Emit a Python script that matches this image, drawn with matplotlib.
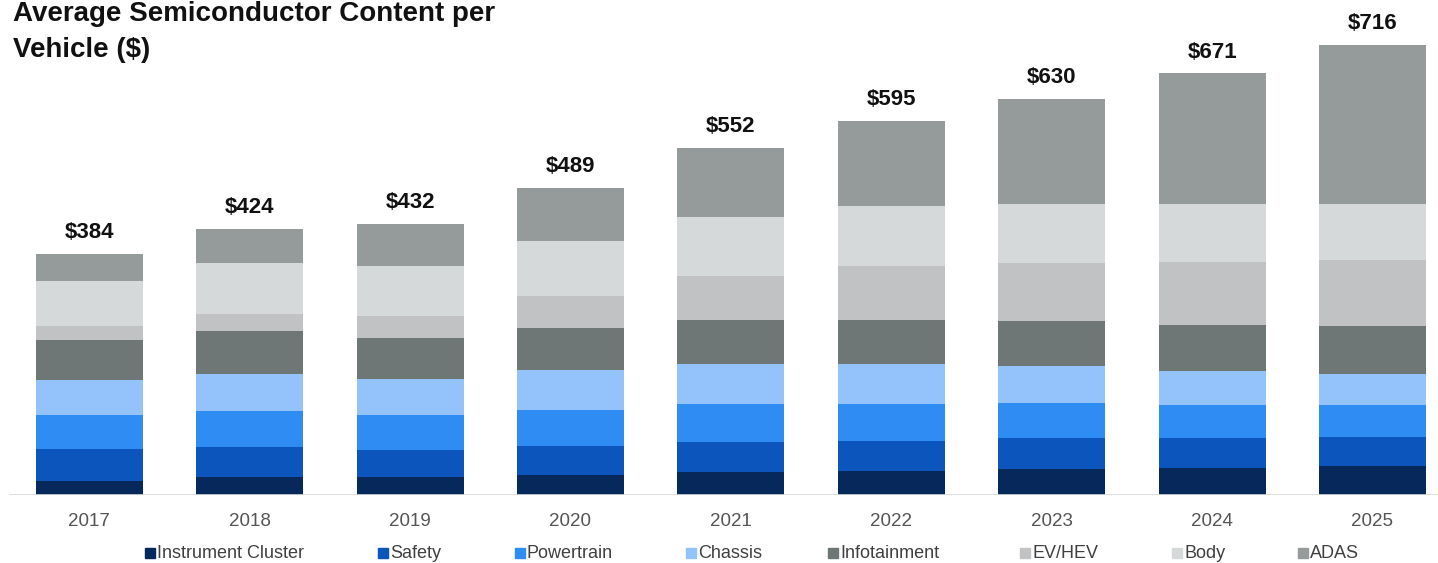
import matplotlib
matplotlib.use("Agg")
import matplotlib.pyplot as plt
import numpy as np

plt.rcParams['font.family'] = ['Liberation Sans', 'DejaVu Sans']

years = ['2017', '2018', '2019', '2020', '2021', '2022', '2023', '2024', '2025']
totals = [384, 424, 432, 489, 552, 595, 630, 671, 716]
categories = ['Instrument Cluster', 'Safety', 'Powertrain', 'Chassis',
              'Infotainment', 'EV/HEV', 'Body', 'ADAS']

# values per segment, bottom to top
instrument = [23, 28, 28, 32, 36, 38, 41, 43, 46]
safety = [50, 49, 44, 46, 48, 48, 49, 48, 46]
powertrain = [55, 57, 56, 58, 61, 59, 56, 53, 51]
chassis = [55, 59, 57, 63, 64, 64, 60, 53, 49]
infotainment = [64, 68, 65, 67, 70, 70, 71, 74, 77]
evhev = [22, 27, 35, 50, 69, 85, 92, 100, 105]
body = [71, 81, 80, 88, 94, 96, 95, 92, 90]
adas = [44, 55, 67, 85, 110, 135, 166, 208, 252]

series = [instrument, safety, powertrain, chassis, infotainment, evhev, body, adas]
colors = ['#06285a', '#0b55bd', '#2f8cf3', '#93c3fa',
          '#6f7776', '#c0c2c3', '#d6d9da', '#959a9a']

W, H = 1438, 563
fig = plt.figure(figsize=(W / 100, H / 100), dpi=100)
ax = fig.add_axes([0, 68 / H, 1, 495 / H])

x = np.arange(len(years))
bottom = np.zeros(len(years))
for vals, col, name in zip(series, colors, categories):
    ax.bar(x, vals, 0.666, bottom=bottom, color=col, label=name, zorder=2)
    bottom += np.array(vals)

for xi, t in zip(x, totals):
    ax.annotate('$%d' % t, (xi, t), xytext=(0, 11.5), textcoords='offset points',
                ha='center', va='baseline', fontsize=16, fontweight='bold', color='#111111')

ax.set_xlim(-89.3 / 160.4, (W - 89.3) / 160.4)
ax.set_ylim(0, 788)
ax.axhline(0, xmin=10 / W, xmax=1, color='#d9d9d9', lw=1.2, zorder=3)
for s in ax.spines.values():
    s.set_visible(False)
ax.set_yticks([])
ax.set_xticks(x)
ax.set_xticklabels(years, fontsize=13.5, color='#555555')
ax.tick_params(axis='x', length=0, pad=13)

# title (top line sits right at the upper edge, as in the source)
fig.text(13 / W, 1 - 21 / H, 'Average Semiconductor Content per', fontsize=20,
         fontweight='bold', va='baseline', ha='left', color='#111111')
fig.text(13 / W, 1 - 57 / H, 'Vehicle ($)', fontsize=20,
         fontweight='bold', va='baseline', ha='left', color='#111111')

# legend laid out along the bottom
lax = fig.add_axes([0, 0, 1, 1])
lax.set_xlim(0, W)
lax.set_ylim(H, 0)
lax.axis('off')
leg_x = [145, 378, 515, 686, 828, 1020, 1172, 1298]
for lx, col, name in zip(leg_x, colors, categories):
    lax.add_patch(plt.Rectangle((lx, 548), 10, 10, color=col))
    lax.text(lx + 12, 553.5, name, fontsize=13, color='#404040', va='center', ha='left')

fig.savefig('out.png', dpi=100)
